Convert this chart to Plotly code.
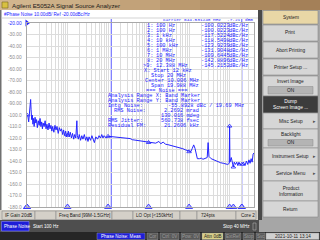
import plotly.graph_objects as go

W, H = 320, 240

# ---------------- data ----------------
freq_hz = [100, 105, 110, 115, 120, 123, 126, 130, 135, 140, 145, 150, 158, 165, 172, 180, 190, 200,
           210, 220, 230, 240, 250, 265, 280, 295, 310, 330, 350, 370, 390, 410, 430, 460, 490, 520,
           550, 590, 630, 670, 710, 760, 800, 850, 900, 950, 1000, 1050, 1100, 1170, 1250, 1330,
           1420, 1500, 1600, 1700, 1750, 1850, 1950, 2100, 2250, 2400, 2600, 2800, 3000, 3200,
           3400, 3700, 4000, 4300, 4600, 5000, 5500, 6000, 6500, 7000, 7500, 8000, 9000, 10000,
           12000, 15000, 20000, 25000, 30000, 35000, 40000, 50000, 60000, 70000, 80000, 100000,
           120000, 150000, 180000, 200000, 230000, 260000, 300000, 400000, 500000, 600000, 700000,
           800000, 900000, 1.0e6, 1.1e6, 1.2e6, 1.3e6, 1.4e6, 1.5e6, 1.6e6, 1.8e6, 2.0e6, 2.2e6,
           2.5e6, 2.8e6, 2.95e6, 3.1e6, 3.5e6, 4.0e6, 5.0e6, 6.0e6, 7.0e6, 8.0e6, 9.0e6, 9.8e6,
           10.0e6, 10.2e6, 11.0e6, 11.5e6, 12.388e6, 13e6, 14e6, 15e6, 16e6, 17e6, 18e6, 20e6,
           22e6, 24e6, 26e6, 28e6, 30e6, 32e6, 34e6, 36e6, 38e6, 40e6]
noise_dbc = [-100.0, -101, -106, -97, -88, -86.5, -95, -104, -100, -108, -103, -110, -102, -107, -104,
             -111, -105, -109, -103, -110, -106, -112, -107, -110, -105, -112, -108, -113, -107, -112,
             -109, -114, -110, -115, -109, -113, -110, -116, -111, -114, -112, -117, -113, -118, -114,
             -119, -117.5, -114, -119, -115, -120, -116, -121, -117, -120, -105, -118, -121, -117,
             -122, -118, -121, -117, -122, -119, -123, -119, -122, -118, -121, -124, -119, -121, -118,
             -120, -117, -120, -118, -120, -118.5, -118.8, -119.3, -119.8, -120.3, -120.8, -120.5,
             -121.5, -122, -122.3, -122.8, -123.2, -123.9, -124.2, -124.5, -123, -125, -123.5,
             -125.4, -125.8, -126.8, -127.8, -128.5, -129.3, -130.2, -131, -131.9, -132, -129,
             -126, -129, -134, -138, -138, -137.5, -138.5, -138, -137, -124, -136, -138, -139,
             -140.5, -141.5, -142, -142.5, -143, -142, -109.6445, -141, -137, -140, -145.2, -141,
             -143, -141, -144, -141, -143, -142.9, -141, -144, -140, -143, -139, -142, -138, -141,
             -134, -133]

marker_ids = ["1:", "2:", "3:", "4:", "5:", "6:", "7:", "8:", ">9:"]
marker_freq = [100, 100, 1e3, 1e4, 1e5, 1e6, 1e7, 2e7, 12.388e6]
marker_freq_lbl = ["100 Hz", "100 Hz", "1 kHz", "10 kHz", "100 kHz", "1 MHz", "10 MHz", "20 MHz", "12.388 MHz"]
marker_val = [-100.0223, -100.0223, -117.5224, -118.5498, -123.9239, -131.9048, -109.6445, -142.8896, -145.2152]

y_ticks = [-20, -30, -40, -50, -60, -70, -80, -90, -100, -110, -120, -130, -140, -150, -160, -170, -180]
y_tick_labels = ["-20.00", "-30.00", "-40.00", "-50.00", "-60.00", "-70.00", "-80.00", "-90.00",
                 "-100.0", "-110.0", "-120.0", "-130.0", "-140.0", "-150.0", "-160.0", "-170.0", "-180.0"]
x_start, x_stop = 100, 40e6
band_start, band_stop = 12e3, 20e6

softkeys = ["System", "Print", "Abort Printing", "Printer Setup ...", "Invert Image", "Dump<br>Screen Image ...",
            "Misc Setup", "Backlight", "Instrument Setup", "Service Menu", "Product<br>Information", "Return"]

# grid values for log axis
x_grid = []
d = 100
while d <= 1e7:
    for k in range(1, 10):
        v = k * d
        if v <= x_stop * 1.0001:
            x_grid.append(v)
    d *= 10

# ---------------- helpers ----------------
def px(x):
    return x / W

def py(y):
    return 1 - y / H

BLUE = "#2424ff"
MONO = "Liberation Mono"
SANS = "Liberation Sans"

shapes = []
anns = []

def rect(x0, y0, x1, y1, fill, line=None, lw=0.8, layer="below"):
    shapes.append(dict(type="rect", xref="paper", yref="paper", x0=px(x0), x1=px(x1), y0=py(y1), y1=py(y0),
                       fillcolor=fill, line=dict(color=line or fill, width=lw if line else 0), layer=layer))

def txt(x, y, s, size=5.3, color=BLUE, anchor="left", family=MONO):
    anns.append(dict(x=px(x), y=py(y), xref="paper", yref="paper", text=s, showarrow=False,
                     xanchor=anchor, yanchor="middle", font=dict(size=size, color=color, family=family),
                     borderpad=0))

# ---------------- backgrounds ----------------
tb_cols = ["#d2b68e", "#cdb087", "#c8a980", "#c2a279", "#bb9a70", "#b49268", "#ac8960", "#a48058"]
seg = W / len(tb_cols)
for i, c in enumerate(tb_cols):
    rect(i * seg, 0, (i + 1) * seg + 0.5, 10, c)
rect(2, 2, 8, 8, "#d8c040", line="#7a6a20", lw=0.6)
txt(11, 5, "Agilent E5052A Signal Source Analyzer", size=6.2, color="#1a1a1a", family=SANS)

rect(0, 10, 259, 210, "#ffffff")
rect(0, 10, 1.5, 220, "#707070")
shapes.append(dict(type="line", xref="paper", yref="paper", x0=px(1.5), x1=px(258), y0=py(18), y1=py(18),
                   line=dict(color="#c8c8c8", width=0.8)))
txt(3, 14, "#Phase Noise 10.00dB/ Ref -20.00dBc/Hz", size=4.6, color=BLUE, family=SANS)

rect(0, 210, 259, 220, "#d4d0c8")
for (a, b) in [(2, 35), (35, 56), (56, 112), (112, 133), (133, 180), (180, 197), (197, 236), (236, 256)]:
    rect(a, 211, b, 219.5, "#d4d0c8", line="#8c8c8c", lw=0.6)
txt(3.5, 215, "IF Gain 20dB", size=4.6, color="#202020", family=SANS)
txt(58, 215, "Freq Band [99M-1.5GHz]", size=4.6, color="#202020", family=SANS)
txt(135, 215, "LO Opt [<150kHz]", size=4.6, color="#202020", family=SANS)
txt(200, 215, "724pts", size=4.6, color="#202020", family=SANS)
txt(240, 215, "Core 2", size=4.6, color="#202020", family=SANS)

rect(0, 220, 259, 232, "#4e4e4e")
rect(1.5, 221.5, 29, 231, "#1e1ed8", line="#8080ff", lw=0.6)
txt(3, 226.3, "Phase Noise", size=4.6, color="#ffffff", family=SANS)
txt(32, 226.3, "Start 100 Hz", size=4.6, color="#ffffff", family=SANS)
txt(251, 226.3, "Stop 40 MHz", size=4.6, color="#ffffff", anchor="right", family=SANS)
rect(253, 223, 256, 230, "#4e4e4e", line="#c0c0c0", lw=0.5)

rect(0, 232, 320, 240, "#262626")
boxes = [(97, 145, "Phase Noise: Meas", "#1e1ed8", "#ffffff"),
         (147, 158, "Cor", "#5a5a5a", "#9a9a9a"),
         (160, 179, "Ctrl: 0V", "#5a5a5a", "#9a9a9a"),
         (181, 200, "Pow: 0V", "#5a5a5a", "#9a9a9a"),
         (202, 223, "Attn 0dB", "#d8d08a", "#202020"),
         (225, 241, "ExtRef", "#5a5a5a", "#9a9a9a"),
         (243, 254, "Stop", "#5a5a5a", "#9a9a9a"),
         (256, 265, "Svc", "#5a5a5a", "#9a9a9a"),
         (266, 319, "2021-10-11 13:14", "#d0d0d0", "#202020")]
for a, b, s, fc, tc in boxes:
    rect(a, 233, b, 239.5, fc, line="#9a9a9a", lw=0.5)
    txt((a + b) / 2, 236.4, s, size=4.6, color=tc, anchor="center", family=SANS)

rect(259, 10, 320, 232, "#a6a6a6")
rect(258, 10, 262, 220, "#4a4a4a")
key_rows = [(10.5, 24), (25, 41), (42, 58), (59, 75), (76, 96), (96, 113), (113, 129), (129, 148),
            (148, 165), (165, 181), (181, 201), (201, 217)]
for i, (lbl, (a, b)) in enumerate(zip(softkeys, key_rows)):
    fill, tcol = "#d6d6d6", "#202020"
    if i == 0:
        fill = "#e9d7a6"
    if i == 5:
        fill, tcol = "#3c3c3c", "#ffffff"
    rect(263, a, 318, b, fill, line="#8a8a8a", lw=0.6)
    if lbl in ("Invert Image", "Backlight"):
        txt(290.5, a + 5.5, lbl, size=4.8, color=tcol, anchor="center", family=SANS)
        rect(268, a + 10.5, 313, b - 2, "#b4b4b4", line="#8a8a8a", lw=0.5)
        txt(290.5, (a + 10.5 + b - 2) / 2, "ON", size=4.8, color="#202020", anchor="center", family=SANS)
    else:
        txt(290.5, (a + b) / 2, lbl, size=4.8, color=tcol, anchor="center", family=SANS)
    if lbl in ("Misc Setup", "Instrument Setup", "Service Menu"):
        txt(316.5, (a + b) / 2, "\u25b8", size=4.8, color="#505050", anchor="right", family=SANS)

for v, lab in zip(y_ticks, y_tick_labels):
    yy = 23 + (-20 - v) / 10 * 11.5
    txt(23, yy, lab, size=4.8, color=BLUE if v == -20 else "#8a8a8a", anchor="right", family=SANS)

for i in range(len(marker_ids)):
    yy = 25.7 + 5 * i
    txt(153.5, yy, marker_ids[i], anchor="right")
    txt(155, yy, marker_freq_lbl[i])
    txt(199.5, yy, "%.4f" % marker_val[i])
    txt(228, yy, "dBc/Hz")
txt(222, 19.6, "Carrier 644.531240 MHz", size=4.4, anchor="right")
txt(242, 19.6, "-7.21", size=4.4, anchor="right")
txt(244, 19.6, "dBm", size=4.4)

txt(143, 70.7, "X: Start 12 kHz")
txt(150, 75.7, "Stop 20 MHz")
txt(143.5, 80.7, "Center 10.006 MHz")
txt(150, 85.7, "Span 19.988 MHz")
txt(145, 90.7, "=== Noise ===")
txt(107, 95.7, "Analysis Range X: Band Marker")
txt(107, 100.7, "Analysis Range Y: Band Marker")
txt(107, 105.7, "Intg Noise:")
txt(245, 105.7, "-55.8928 dBc / 19.69 MHz", anchor="right")
txt(113, 110.7, "RMS Noise:")
txt(200, 110.7, "2.2692 mrad", anchor="right")
txt(200, 115.7, "130.016 mdeg", anchor="right")
txt(107, 120.7, "RMS Jitter:")
txt(200, 120.7, "560.738 fsec", anchor="right")
txt(107, 125.7, "Residual FM:")
txt(200, 125.7, "21.2606 kHz", anchor="right")

for f in (band_start, band_stop):
    shapes.append(dict(type="line", xref="x", yref="paper", x0=f, x1=f, y0=py(207), y1=py(19),
                       line=dict(color="#5a5aff", width=1), layer="below"))

fig = go.Figure()
fig.add_trace(go.Scatter(x=freq_hz, y=noise_dbc, mode="lines", line=dict(color=BLUE, width=1),
                         showlegend=False, hoverinfo="skip"))
fig.add_trace(go.Scatter(x=marker_freq[1:], y=marker_val[1:], mode="markers",
                         marker=dict(symbol="triangle-up-open", size=4, color=BLUE, line=dict(width=0.8)),
                         showlegend=False, hoverinfo="skip"))
fig.add_trace(go.Scatter(x=marker_freq + [band_stop], y=[-180] * (len(marker_freq) + 1), mode="markers",
                         marker=dict(symbol="triangle-up", size=6, color="#b8b8ff",
                                     line=dict(color=BLUE, width=0.8)),
                         cliponaxis=False, showlegend=False, hoverinfo="skip"))
fig.add_trace(go.Scatter(x=[x_start], y=[-20], mode="markers",
                         marker=dict(symbol="triangle-right", size=6, color=BLUE),
                         cliponaxis=False, showlegend=False, hoverinfo="skip"))
fig.add_trace(go.Scatter(x=[band_start], y=[-17.3], mode="markers",
                         marker=dict(symbol="triangle-nw", size=5, color=BLUE),
                         cliponaxis=False, showlegend=False, hoverinfo="skip"))

fig.update_layout(
    width=W, height=H, margin=dict(l=0, r=0, t=0, b=0),
    paper_bgcolor="#d4d0c8", plot_bgcolor="#ffffff",
    shapes=shapes, annotations=anns, showlegend=False,
    xaxis=dict(type="log", range=[2, 7.60206], domain=[px(27), px(254)],
               tickvals=x_grid, showticklabels=False, ticks="", showgrid=True,
               gridcolor="#dcdcdc", gridwidth=1, zeroline=False,
               showline=True, linecolor="#a8a8a8", linewidth=1, mirror=True),
    yaxis=dict(range=[-180, -20], domain=[py(207), py(23)],
               tickvals=y_ticks, showticklabels=False, ticks="", showgrid=True,
               gridcolor="#dcdcdc", gridwidth=1, zeroline=False,
               showline=True, linecolor="#a8a8a8", linewidth=1, mirror=True),
)

fig.write_html("out.html")
